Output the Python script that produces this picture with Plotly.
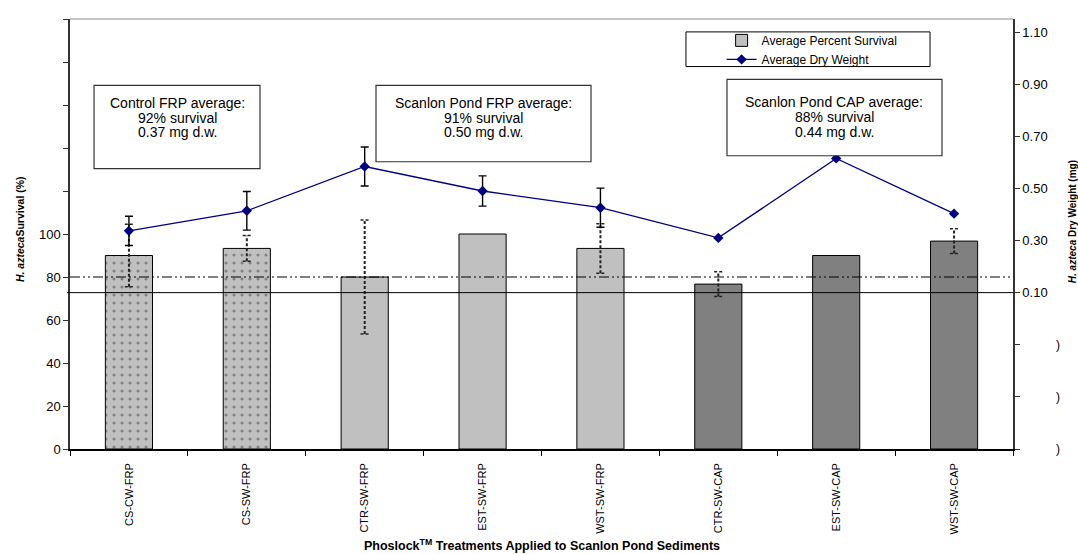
import plotly.graph_objects as go

# ---------------- data ----------------
categories = ["CS-CW-FRP", "CS-SW-FRP", "CTR-SW-FRP", "EST-SW-FRP", "WST-SW-FRP",
              "CTR-SW-CAP", "EST-SW-CAP", "WST-SW-CAP"]
survival = [90, 93.3, 80, 100, 93.3, 76.7, 90, 96.7]
survival_err = [14.5, 6, 26.5, 0, 11.5, 5.8, 0, 5.8]
dry_weight = [0.337, 0.414, 0.584, 0.49, 0.426, 0.31, 0.615, 0.403]
dry_weight_err = [0.056, 0.074, 0.075, 0.058, 0.075, None, None, None]
bar_colors = ["#C0C0C0", "#C0C0C0", "#C0C0C0", "#C0C0C0", "#C0C0C0", "#808080", "#808080", "#808080"]
bar_patterns = [".", ".", "", "", "", "", "", ""]
survival_ref = 80      # dash-dot reference line (left axis)
dry_weight_ref = 0.10  # solid reference line (right axis)

left_ticks = [0, 20, 40, 60, 80, 100, 120, 140, 160, 180, 200]
left_ticktext = ["0", "20", "40", "60", "80", "100", " ", " ", " ", " ", " "]
right_ticks = [-0.5, -0.3, -0.1, 0.1, 0.3, 0.5, 0.7, 0.9, 1.1]
right_ticktext = [" ", " ", " ", "0.10", "0.30", "0.50", "0.70", "0.90", "1.10"]

boxes = [
    ["Control FRP average:", "92% survival", "0.37 mg d.w."],
    ["Scanlon Pond FRP average:", "91% survival", "0.50 mg d.w."],
    ["Scanlon Pond CAP average:", "88% survival", "0.44 mg d.w."],
]

FONT = "Arial, Liberation Sans, sans-serif"
xs = list(range(len(categories)))

# ---------------- figure ----------------
fig = go.Figure()

# legend-only bar entry
fig.add_trace(go.Bar(x=[None], y=[None], name="Average Percent Survival",
                     marker=dict(color="#C0C0C0", line=dict(color="black", width=1))))

fig.add_trace(go.Bar(
    x=xs, y=survival, width=0.4, showlegend=False,
    marker=dict(color=bar_colors, line=dict(color="black", width=1),
                pattern=dict(shape=bar_patterns, fgcolor="white", size=8, solidity=0.12)),
))

# dotted survival error bars
ex, ey, cx, cy = [], [], [], []
for x, m, e in zip(xs, survival, survival_err):
    if e > 0:
        ex += [x, x, None]
        ey += [m - e, m + e, None]
        for v in (m - e, m + e):
            cx += [x - 0.035, x + 0.035, None]
            cy += [v, v, None]
fig.add_trace(go.Scatter(x=ex, y=ey, mode="lines", showlegend=False, hoverinfo="skip",
                         line=dict(color="#222222", width=2, dash="3px,2px")))
fig.add_trace(go.Scatter(x=cx, y=cy, mode="lines", showlegend=False, hoverinfo="skip",
                         line=dict(color="#222222", width=1.5, dash="3px,2px")))

# dry weight line
fig.add_trace(go.Scatter(
    x=xs, y=dry_weight, yaxis="y2", name="Average Dry Weight", mode="lines+markers",
    line=dict(color="#000080", width=1.3),
    marker=dict(symbol="diamond", size=8, color="#000080"),
    error_y=dict(type="data", array=dry_weight_err, color="black", thickness=1.4, width=4),
))

shapes = [
    # reference lines
    dict(type="line", xref="paper", x0=0, x1=1, yref="y", y0=survival_ref, y1=survival_ref,
         line=dict(color="black", width=1, dash="10px,3px,2px,3px,2px,3px"), layer="above"),
    dict(type="line", xref="paper", x0=-0.003, x1=1, yref="y2", y0=dry_weight_ref, y1=dry_weight_ref,
         line=dict(color="black", width=1), layer="above"),
    # top border
    dict(type="line", xref="paper", x0=0, x1=1, yref="paper", y0=1, y1=1,
         line=dict(color="#B0B0B0", width=1.5)),
    # legend frame
    dict(type="rect", xref="paper", yref="paper", x0=0.6532, x1=0.912, y0=0.8894, y1=0.970,
         line=dict(color="black", width=1), fillcolor="white", layer="below"),
]

box_geom = [
    (0.0255, 0.2015, 0.652, 0.8456),
    (0.3245, 0.5525, 0.668, 0.8456),
    (0.6967, 0.9247, 0.682, 0.8594),
]
line_px = [[100, 114.5, 129.5], [100, 114.5, 129.5], [99, 114, 129]]

annotations = []
for (x0, x1, y0, y1), lines, lps in zip(box_geom, boxes, line_px):
    shapes.append(dict(type="rect", xref="paper", yref="paper", x0=x0, x1=x1, y0=y0, y1=y1,
                       line=dict(color="#333333", width=1.2), fillcolor="white", layer="above"))
    for txt, py in zip(lines, lps):
        annotations.append(dict(text=txt, xref="paper", yref="paper", x=(x0 + x1) / 2,
                                y=(449 - py) / 434, showarrow=False, xanchor="center", yanchor="middle",
                                font=dict(family=FONT, size=14, color="black")))

for v in [-0.1, -0.3, -0.5]:
    annotations.append(dict(text=")", xref="paper", yref="y2", x=1.0477, y=v, showarrow=False,
                            xanchor="center", yanchor="middle",
                            font=dict(family=FONT, size=12, color="black")))

annotations += [
    dict(text="<b><i>H. azteca</i>Survival (%)</b>", xref="paper", yref="paper", x=-0.053, y=0.5115,
         textangle=-90, showarrow=False, xanchor="center", yanchor="middle",
         font=dict(family=FONT, size=10.5, color="black")),
    dict(text="<b><i>H. azteca</i> Dry Weight (mg)</b>", xref="paper", yref="paper", x=1.0626, y=0.5276,
         textangle=-90, showarrow=False, xanchor="center", yanchor="middle",
         font=dict(family=FONT, size=10, color="black")),
    dict(text="<b>Phoslock<sup>TM</sup> Treatments Applied to Scanlon Pond Sediments</b>",
         xref="paper", yref="paper", x=0.5, y=-0.2235, showarrow=False,
         xanchor="center", yanchor="middle", font=dict(family=FONT, size=12.5, color="black")),
]

fig.update_layout(
    width=1078, height=554,
    margin=dict(l=70, r=65, t=15, b=105),
    paper_bgcolor="white", plot_bgcolor="white",
    barmode="overlay",
    font=dict(family=FONT, size=13, color="black"),
    showlegend=True,
    legend=dict(x=0.691, y=0.984, xanchor="left", yanchor="top", bgcolor="rgba(0,0,0,0)",
                borderwidth=0, font=dict(family=FONT, size=12, color="black"),
                tracegroupgap=0, itemwidth=30),
    xaxis=dict(range=[-0.5, 7.5], tickmode="array", tickvals=xs, ticktext=categories,
               tickangle=-90, ticks="", showline=True, linecolor="black", linewidth=1.5,
               showgrid=False, zeroline=False, ticklabelstandoff=8,
               tickfont=dict(family=FONT, size=11, color="black"),
               minor=dict(tickmode="array", tickvals=[i + 0.5 for i in range(-1, 8)],
                          ticks="outside", ticklen=5, tickcolor="black", tickwidth=1, showgrid=False)),
    yaxis=dict(range=[0, 200], tickmode="array", tickvals=left_ticks, ticktext=left_ticktext,
               ticks="outside", ticklen=5, tickcolor="#333333", showline=True, linecolor="#333333",
               linewidth=1.5, showgrid=False, zeroline=False,
               tickfont=dict(family=FONT, size=13, color="black")),
    yaxis2=dict(range=[-0.5, 1.15], overlaying="y", side="right", tickmode="array",
                tickvals=right_ticks, ticktext=right_ticktext, ticks="outside", ticklen=5,
                tickcolor="#333333", showline=True, linecolor="#333333", linewidth=1.5,
                showgrid=False, zeroline=False,
                tickfont=dict(family=FONT, size=13, color="black")),
    shapes=shapes,
    annotations=annotations,
)

# remove the browser's default 8px page margin so the figure fills the window exactly
fig.write_html("out.html", config={"displayModeBar": False},
               post_script="document.body.style.margin='0';document.body.style.overflow='hidden';")
